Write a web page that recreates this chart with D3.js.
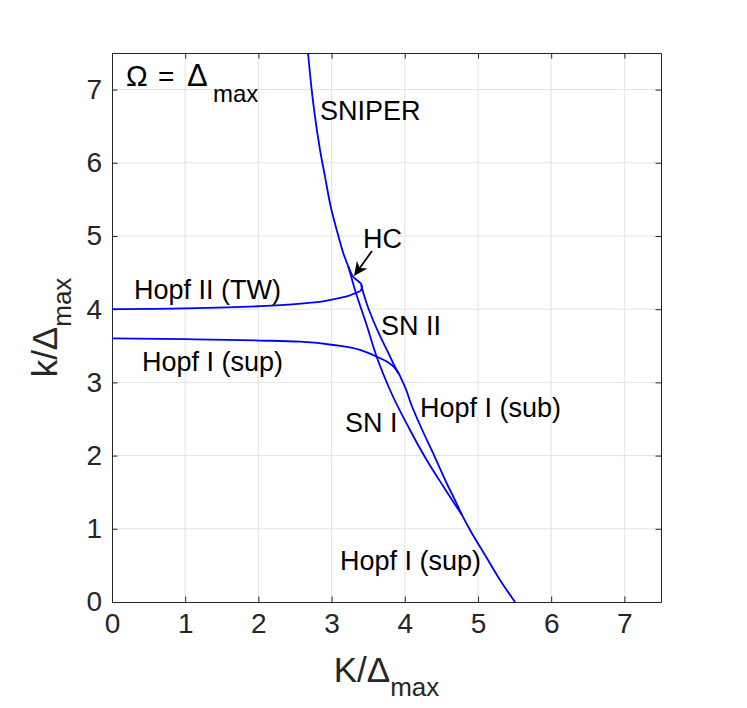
<!DOCTYPE html>
<html>
<head>
<meta charset="utf-8">
<script src="https://cdn.jsdelivr.net/npm/d3@7"></script>
<style>
  body { margin: 0; background: #fff; }
  text { font-family: "Liberation Sans", Arial, sans-serif; }
</style>
</head>
<body>
<div class="bif-plot"></div>
<script>
// tick values
const xTicks = [0, 1, 2, 3, 4, 5, 6, 7];
const yTicks = [0, 1, 2, 3, 4, 5, 6, 7];

// SNIPER continuing as SN I (K, k)
const snK = [2.678, 2.728, 2.773, 2.842, 2.910, 2.978, 3.070, 3.160, 3.228, 3.320, 3.470, 3.616, 3.798, 4.071, 4.299, 4.529, 4.781];
const snk = [7.50, 6.995, 6.630, 6.175, 5.810, 5.447, 5.082, 4.764, 4.581, 4.262, 3.811, 3.351, 2.896, 2.350, 1.940, 1.575, 1.189];

// SN II
const sn2K = [3.402, 3.477, 3.566, 3.661, 3.770, 3.852, 3.916];
const sn2k = [4.331, 4.085, 3.852, 3.634, 3.415, 3.238, 3.122];

// Hopf I (sup -> sub -> sup)
const hopf1K = [0, 1.0, 2.02, 2.568, 3.023, 3.388, 3.616, 3.770, 3.852, 3.921, 3.975, 4.030, 4.071, 4.208, 4.385, 4.577, 4.686, 4.781, 4.891, 5.096, 5.301, 5.505];
const hopf1k = [3.602, 3.59, 3.572, 3.556, 3.511, 3.443, 3.351, 3.275, 3.210, 3.115, 2.999, 2.869, 2.746, 2.418, 2.036, 1.612, 1.393, 1.189, 0.984, 0.642, 0.301, 0];

// Hopf II (TW)
const hopf2K = [0, 1.0, 2.0, 2.5, 2.9, 3.1, 3.25, 3.395];
const hopf2k = [4.00, 4.01, 4.04, 4.07, 4.11, 4.15, 4.19, 4.249];

// HC
const hcK = [3.228, 3.292, 3.361, 3.408, 3.415, 3.395];
const hck = [4.581, 4.447, 4.385, 4.337, 4.290, 4.249];

const width = 747;
const height = 708;
const padL = 112, padT = 53, size = 549;

const svg = d3.select('.bif-plot')
    .append('svg')
    .attr('width', width)
    .attr('height', height)

const x = d3.scaleLinear().domain([0, 7.5]).range([padL, padL + size]);
const y = d3.scaleLinear().domain([0, 7.5]).range([padT + size, padT]);

// grid
svg.selectAll('.gx')
    .data(xTicks.filter(d => d > 0))
    .enter()
    .append('line')
    .attr('x1', d => x(d)).attr('x2', d => x(d))
    .attr('y1', padT).attr('y2', padT + size)
    .attr('stroke', '#e3e3e3')
svg.selectAll('.gy')
    .data(yTicks.filter(d => d > 0))
    .enter()
    .append('line')
    .attr('y1', d => y(d)).attr('y2', d => y(d))
    .attr('x1', padL).attr('x2', padL + size)
    .attr('stroke', '#e3e3e3')

function styleAxis(g) {
    g.selectAll('path, line').attr('stroke', '#262626');
    g.selectAll('text')
        .attr('fill', '#262626')
        .attr('font-size', 28)
        .attr('font-family', '"Liberation Sans", Arial, sans-serif');
}

svg.append('g')
    .attr('transform', `translate(0,${padT + size})`)
    .call(d3.axisBottom(x).tickValues(xTicks).tickSize(-5.5).tickSizeOuter(0).tickPadding(11))
    .call(styleAxis)
svg.append('g')
    .attr('transform', `translate(${padL},0)`)
    .call(d3.axisLeft(y).tickValues(yTicks).tickSize(-5.5).tickSizeOuter(0).tickPadding(10))
    .call(styleAxis)
svg.append('g')
    .attr('transform', `translate(0,${padT})`)
    .call(d3.axisTop(x).tickValues(xTicks).tickSize(-5.5).tickSizeOuter(0).tickFormat(''))
    .call(styleAxis)
svg.append('g')
    .attr('transform', `translate(${padL + size},0)`)
    .call(d3.axisRight(y).tickValues(yTicks).tickSize(-5.5).tickSizeOuter(0).tickFormat(''))
    .call(styleAxis)

// curves
const curves = [
    { K: snK, k: snk, curve: d3.curveMonotoneX },
    { K: sn2K, k: sn2k, curve: d3.curveMonotoneX },
    { K: hopf1K, k: hopf1k, curve: d3.curveMonotoneX },
    { K: hopf2K, k: hopf2k, curve: d3.curveMonotoneX },
    { K: hcK, k: hck, curve: d3.curveCatmullRom },
];
svg.selectAll('.branch')
    .data(curves)
    .enter()
    .append('path')
    .attr('fill', 'none')
    .attr('stroke', '#0000ff')
    .attr('stroke-width', 1.8)
    .attr('d', c => d3.line()
        .x(i => x(c.K[i]))
        .y(i => y(c.k[i]))
        .curve(c.curve)(d3.range(c.K.length)))

// labels
const labels = [
    { t: 'SNIPER', x: 320, y: 120 },
    { t: 'HC', x: 363, y: 248 },
    { t: 'Hopf II (TW)', x: 134, y: 299 },
    { t: 'SN II', x: 381, y: 335 },
    { t: 'Hopf I (sup)', x: 142, y: 371 },
    { t: 'SN I', x: 345, y: 432 },
    { t: 'Hopf I (sub)', x: 420, y: 417 },
    { t: 'Hopf I (sup)', x: 340, y: 570 },
];
svg.selectAll('.lbl')
    .data(labels)
    .enter()
    .append('text')
    .attr('x', d => d.x)
    .attr('y', d => d.y)
    .attr('font-size', 27)
    .attr('fill', '#000')
    .text(d => d.t)

// HC arrow
const ax1 = 372, ay1 = 251, ax2 = 354, ay2 = 276;
const ang = Math.atan2(ay2 - ay1, ax2 - ax1);
const hl = 14, hw = 6.5;
svg.append('line')
    .attr('x1', ax1).attr('y1', ay1)
    .attr('x2', ax2 - Math.cos(ang) * 8).attr('y2', ay2 - Math.sin(ang) * 8)
    .attr('stroke', '#000').attr('stroke-width', 1.8)
const bx = ax2 - Math.cos(ang) * hl, by = ay2 - Math.sin(ang) * hl;
const nx = -Math.sin(ang), ny = Math.cos(ang);
const ix = ax2 - Math.cos(ang) * hl * 0.7, iy = ay2 - Math.sin(ang) * hl * 0.7;
svg.append('path')
    .attr('d', `M${ax2},${ay2}L${bx + nx * hw},${by + ny * hw}L${ix},${iy}L${bx - nx * hw},${by - ny * hw}Z`)
    .attr('fill', '#000')

// Omega = Delta_max
const om = svg.append('g').attr('fill', '#000')
om.append('text').attr('x', 126).attr('y', 86).attr('font-size', 29)
    .attr('font-family', '"Liberation Serif", serif').text('Ω')
om.append('text').attr('x', 158).attr('y', 86).attr('font-size', 28).text('=')
om.append('text').attr('x', 187).attr('y', 86).attr('font-size', 31).text('Δ')
om.append('text').attr('x', 213).attr('y', 102).attr('font-size', 24).text('max')

// axis labels
const xl = svg.append('text')
    .attr('x', x(3.75)).attr('y', 682)
    .attr('text-anchor', 'middle')
    .attr('font-size', 35)
    .attr('fill', '#262626')
xl.append('tspan').text('K/Δ')
xl.append('tspan').attr('font-size', 26).attr('dy', 14).text('max')

const yl = svg.append('text')
    .attr('transform', `translate(57,${y(3.75)}) rotate(-90)`)
    .attr('text-anchor', 'middle')
    .attr('font-size', 35)
    .attr('fill', '#262626')
yl.append('tspan').text('k/Δ')
yl.append('tspan').attr('font-size', 26).attr('dy', 14).text('max')
</script>
</body>
</html>
